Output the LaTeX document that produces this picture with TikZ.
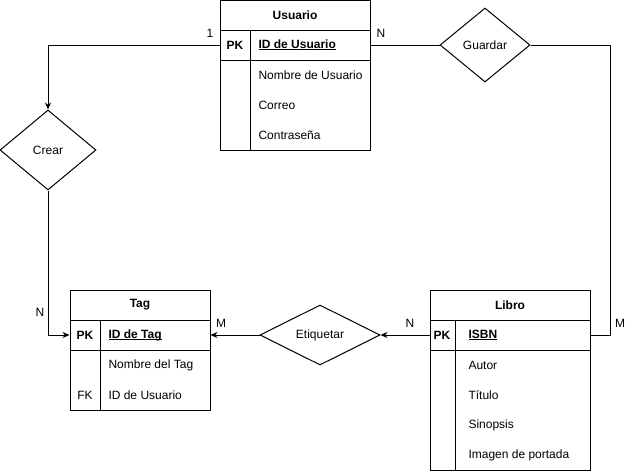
\documentclass[tikz,border=0pt]{standalone}
\usepackage{fontspec}
\setmainfont{Liberation Sans}
\usetikzlibrary{shapes.geometric,arrows.meta}
\newcommand\keyline[1]{\setbox0\hbox{#1}\rlap{\rule[-2pt]{\wd0}{0.9pt}}\box0}

\begin{document}
\fontsize{12}{14}\selectfont
\begin{tikzpicture}[x=1pt,y=-1pt,line width=1pt,
  box/.style={draw,minimum height=30pt,inner sep=0pt},
  rel/.style={draw,diamond,inner sep=0pt},
  attr/.style={anchor=west,inner sep=0pt},
  link/.style={-{Stealth[length=7pt,width=6pt]}}]
  \useasboundingbox (0,0) rectangle (636,471);

  % Usuario
  \node[box,minimum width=150pt,font=\bfseries] (usuario) at (295,15) {Usuario};
  \node[box,minimum width=150pt] (usuario-pk) at (295,45) {};
  \draw (220,60) rectangle (370,150);
  \draw (250,30) -- (250,150);
  \node[font=\bfseries] at (235,45) {PK};
  \node[attr,font=\bfseries] at (258,45) {\keyline{ID de Usuario}};
  \node[attr] at (258,75) {Nombre de Usuario};
  \node[attr] at (258,105) {Correo};
  \node[attr] at (258,135) {Contraseña};

  % Tag
  \node[box,minimum width=140pt,font=\bfseries] (tag) at (140,305) {Tag};
  \node[box,minimum width=140pt] (tag-pk) at (140,335) {};
  \draw (70,350) rectangle (210,410);
  \draw (100,320) -- (100,410);
  \node[font=\bfseries] at (85,335) {PK};
  \node[attr,font=\bfseries] at (108,335) {\keyline{ID de Tag}};
  \node[attr] at (108,365) {Nombre del Tag};
  \node at (85,395) {FK};
  \node[attr] at (108,395) {ID de Usuario};

  % Libro
  \node[box,minimum width=160pt,font=\bfseries] (libro) at (510,305) {Libro};
  \node[box,minimum width=160pt] (libro-pk) at (510,335) {};
  \draw (430,350) rectangle (590,470);
  \draw (455,320) -- (455,470);
  \node[font=\bfseries] at (442,335) {PK};
  \node[attr,font=\bfseries] at (468,335) {\keyline{ISBN}};
  \node[attr] at (468,365) {Autor};
  \node[attr] at (468,395) {Título};
  \node[attr] at (468,425) {Sinopsis};
  \node[attr] at (468,455) {Imagen de portada};

  % relaciones
  \node[rel,minimum width=96pt,minimum height=80pt] (crear) at (48,150) {Crear};
  \node[rel,minimum width=90pt,minimum height=74pt] (guardar) at (485,45) {Guardar};
  \node[rel,minimum width=120pt,minimum height=60pt] (etiquetar) at (320,335) {Etiquetar};
  \coordinate (guardar-corner) at (610,45);

  \draw[link] (usuario-pk.west) -| (crear.north);
  \draw[link] (crear.south) |- (tag-pk.west);
  \draw (usuario-pk.east) -- (guardar.west);
  \draw (guardar.east) -- (guardar-corner) |- (libro-pk.east);
  \draw[link] (libro-pk.west) -- (etiquetar.east);
  \draw[link] (etiquetar.west) -- (tag-pk.east);

  % cardinalidades
  \node at (210,33) {1};
  \node at (381,33) {N};
  \node at (40,312) {N};
  \node at (221,323) {M};
  \node at (410,323) {N};
  \node at (620,323) {M};
\end{tikzpicture}
\end{document}
